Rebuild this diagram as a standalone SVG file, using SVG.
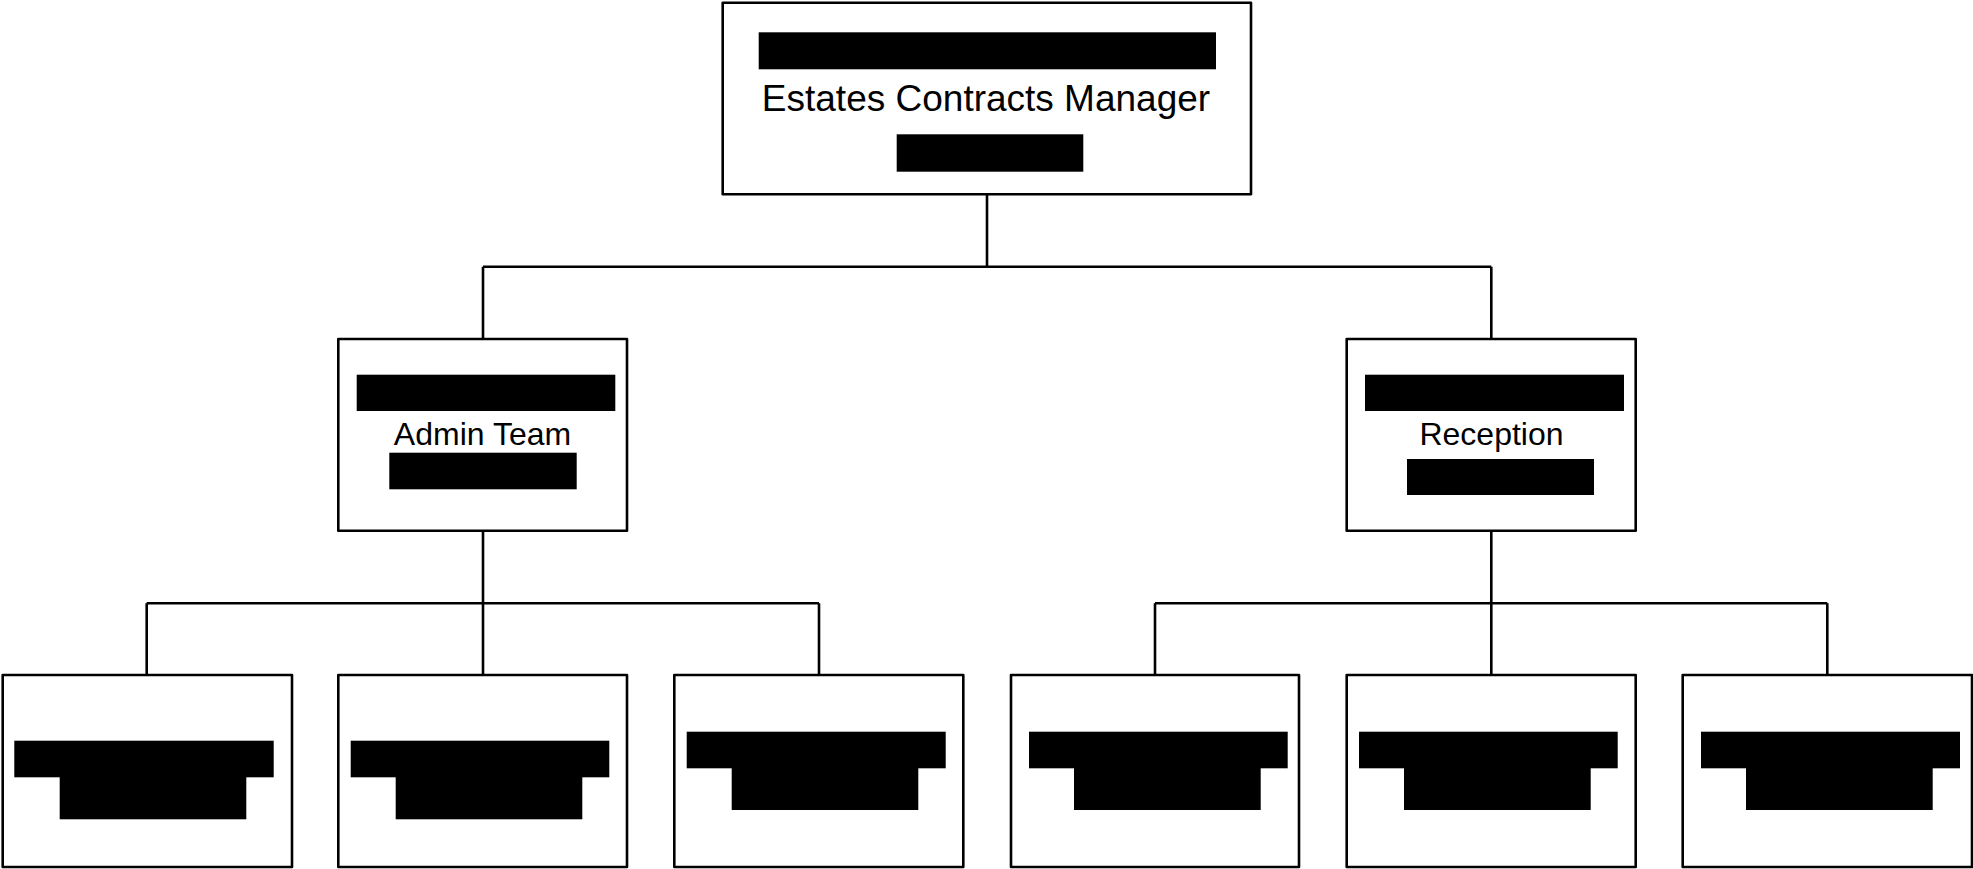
<svg xmlns="http://www.w3.org/2000/svg" width="1973" height="869" viewBox="0 0 1973 869">
<style>
.box{fill:#fff;stroke:#000;stroke-width:2.6;stroke-linejoin:round}
.conn{fill:none;stroke:#000;stroke-width:2.6}
.red{fill:#000}
.lbl{font-family:"Liberation Sans",Arial,sans-serif;fill:#000;text-anchor:middle}
</style>
<rect width="1973" height="869" fill="#fff"/>
<g id="connectors">
<path class="conn" d="M987,194.3V266.7M483,266.7H1491.3M483,266.7V339M1491.3,266.7V339"/>
<path class="conn" d="M483,530.7V603.3M146.7,603.3H819M146.7,603.3V675M483,603.3V675M819,603.3V675"/>
<path class="conn" d="M1491.3,530.7V603.3M1155,603.3H1827.3M1155,603.3V675M1491.3,603.3V675M1827.3,603.3V675"/>
</g>
<g id="node-manager">
<rect class="box" x="722.7" y="2.7" width="528.3" height="191.6"/>
<rect class="red" x="758.7" y="32.3" width="457.3" height="37"/>
<text class="lbl" x="986" y="110.7" font-size="37">Estates Contracts Manager</text>
<rect class="red" x="896.7" y="134.3" width="186.6" height="37.4"/>
</g>
<g id="node-admin">
<rect class="box" x="338.3" y="339" width="288.7" height="191.7"/>
<rect class="red" x="356.7" y="374.7" width="258.6" height="36.3"/>
<text class="lbl" x="482.5" y="445" font-size="32">Admin Team</text>
<rect class="red" x="389.3" y="452.7" width="187.4" height="36.6"/>
</g>
<g id="node-reception">
<rect class="box" x="1346.7" y="339" width="289" height="191.7"/>
<rect class="red" x="1365" y="374.7" width="259" height="36.3"/>
<text class="lbl" x="1491.5" y="445.3" font-size="32">Reception</text>
<rect class="red" x="1407" y="459" width="187" height="36"/>
</g>
<g id="node-b1">
<rect class="box" x="2.7" y="675" width="289.3" height="192"/>
<rect class="red" x="14.3" y="740.7" width="259.4" height="36.6"/>
<rect class="red" x="59.7" y="777" width="186.6" height="42.3"/>
</g>
<g id="node-b2">
<rect class="box" x="338.3" y="675" width="288.7" height="192"/>
<rect class="red" x="350.7" y="740.7" width="258.6" height="36.6"/>
<rect class="red" x="395.7" y="777" width="186.6" height="42.3"/>
</g>
<g id="node-b3">
<rect class="box" x="674.3" y="675" width="289" height="192"/>
<rect class="red" x="686.7" y="731.7" width="259" height="36.6"/>
<rect class="red" x="731.7" y="768" width="186.6" height="42"/>
</g>
<g id="node-b4">
<rect class="box" x="1011" y="675" width="288" height="192"/>
<rect class="red" x="1029" y="731.7" width="258.7" height="36.6"/>
<rect class="red" x="1074" y="768" width="186.7" height="42"/>
</g>
<g id="node-b5">
<rect class="box" x="1346.7" y="675" width="289" height="192"/>
<rect class="red" x="1359" y="731.7" width="258.7" height="36.6"/>
<rect class="red" x="1404" y="768" width="186.7" height="42"/>
</g>
<g id="node-b6">
<rect class="box" x="1682.7" y="675" width="289.3" height="192"/>
<rect class="red" x="1701" y="731.7" width="259" height="36.6"/>
<rect class="red" x="1746" y="768" width="186.7" height="42"/>
</g>
</svg>
